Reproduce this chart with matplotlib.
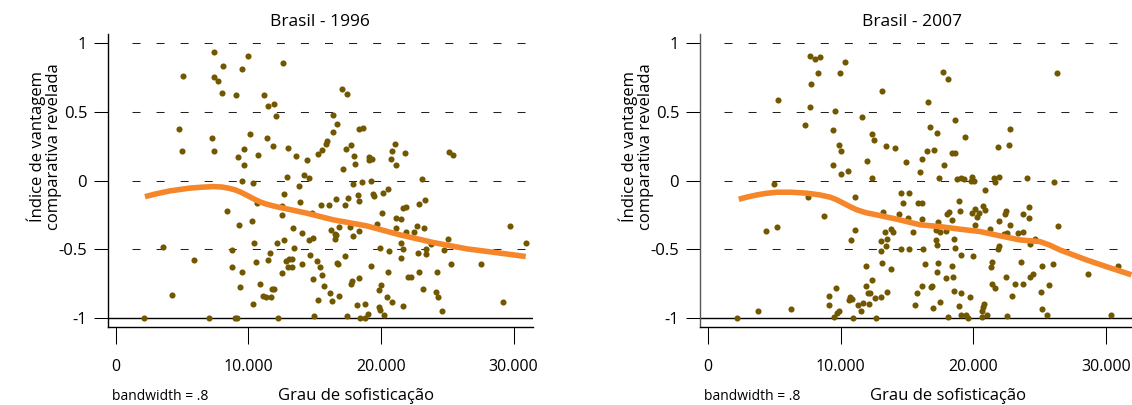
import numpy as np
import matplotlib
matplotlib.use("Agg")
import matplotlib.pyplot as plt
from matplotlib.ticker import FuncFormatter

plt.rcParams['font.family'] = ['Open Sans', 'DejaVu Sans']
plt.rcParams['axes.unicode_minus'] = False

# --- Dados (x em milhares: grau de sofisticação / 1000) ---
pontos_1996 = [
    (7.42, 0.939), (9.98, 0.905), (8.10, 0.837), (9.53, 0.813), (12.63, 0.854), (5.06, 0.763),
    (7.42, 0.753), (7.72, 0.723), (8.00, 0.640), (9.03, 0.624), (11.17, 0.624), (11.49, 0.546),
    (11.90, 0.560), (12.05, 0.473), (4.75, 0.374), (7.25, 0.313), (10.14, 0.342), (11.42, 0.313),
    (4.98, 0.214), (7.37, 0.214), (9.68, 0.231), (11.87, 0.250), (12.96, 0.240), (9.21, 0.172),
    (10.69, 0.189), (13.56, 0.182), (14.39, 0.153), (15.22, 0.197), (9.66, 0.112), (9.49, 0.000),
    (12.90, 0.029), (14.19, 0.039), (14.60, 0.017),
    (17.06, 0.667), (17.43, 0.631), (16.40, 0.478), (16.66, 0.410), (16.40, 0.357), (18.34, 0.378),
    (18.64, 0.386), (15.92, 0.289), (15.87, 0.265), (15.55, 0.223), (17.38, 0.233), (17.74, 0.262),
    (17.94, 0.178), (18.02, 0.124), (17.11, 0.087), (19.12, 0.170), (19.30, 0.156), (19.09, 0.153),
    (21.06, 0.267), (20.86, 0.218), (21.84, 0.202), (20.78, 0.156), (21.13, 0.114), (25.13, 0.209),
    (25.41, 0.185), (23.09, 0.015),
    (10.32, -0.015), (13.84, -0.039), (12.65, -0.099), (13.87, -0.155), (10.62, -0.165), (12.50, -0.182),
    (12.53, -0.252), (14.79, -0.233), (15.50, -0.180), (8.35, -0.225), (9.28, -0.322), (10.24, -0.291),
    (13.36, -0.342), (14.01, -0.383), (14.59, -0.432), (14.85, -0.420), (12.70, -0.434), (12.13, -0.458),
    (10.42, -0.451), (13.41, -0.490), (3.57, -0.485), (8.75, -0.509), (11.63, -0.524), (5.92, -0.575),
    (10.54, -0.594), (11.47, -0.579), (12.81, -0.582), (13.06, -0.572), (13.31, -0.568), (15.17, -0.584),
    (12.96, -0.626), (13.26, -0.628), (14.01, -0.608), (15.37, -0.627), (8.75, -0.630), (9.53, -0.664),
    (12.55, -0.670), (14.89, -0.713), (10.84, -0.750), (9.33, -0.776), (11.75, -0.793), (11.90, -0.793),
    (4.20, -0.832), (11.09, -0.837), (11.29, -0.844), (11.70, -0.844), (15.22, -0.868), (10.32, -0.902),
    (14.92, -0.985), (2.11, -1.000), (7.02, -1.000), (8.98, -1.000), (9.10, -1.000), (12.20, -1.000),
    (17.89, -0.024), (18.57, -0.012), (19.22, -0.002), (16.05, -0.175), (16.60, -0.131), (17.31, -0.180),
    (17.49, -0.124), (18.24, -0.104), (18.32, -0.148), (19.42, -0.099), (19.47, -0.114), (20.13, -0.092),
    (20.55, -0.058), (20.05, -0.237), (16.23, -0.361), (16.50, -0.386), (16.58, -0.397), (16.55, -0.422),
    (16.85, -0.335), (17.68, -0.335), (17.91, -0.400), (18.36, -0.368), (19.67, -0.315), (21.15, -0.274),
    (21.48, -0.281), (21.15, -0.344), (21.89, -0.378), (22.46, -0.378), (22.72, -0.332), (23.27, -0.347),
    (21.63, -0.199), (21.91, -0.191), (22.89, -0.167), (23.32, -0.140), (21.48, -0.451), (21.63, -0.495),
    (21.53, -0.565), (20.63, -0.512), (19.95, -0.488), (22.82, -0.524), (23.40, -0.499), (23.37, -0.531),
    (23.75, -0.461), (25.03, -0.424), (24.77, -0.507), (29.71, -0.330), (30.92, -0.456), (14.62, -0.541),
    (16.66, -0.597), (16.73, -0.608), (17.28, -0.550), (19.22, -0.623), (20.53, -0.662), (22.87, -0.662),
    (24.23, -0.662), (25.28, -0.608), (27.57, -0.604), (15.52, -0.691), (15.72, -0.766), (17.79, -0.730),
    (17.76, -0.754), (18.36, -0.706), (19.97, -0.761), (19.87, -0.795), (22.01, -0.703), (22.24, -0.703),
    (23.19, -0.786), (24.13, -0.808), (24.28, -0.844), (16.13, -0.820), (16.81, -0.841), (16.30, -0.880),
    (20.43, -0.851), (20.80, -0.883), (18.21, -0.909), (18.77, -0.902), (19.87, -0.919), (19.95, -0.941),
    (21.66, -0.914), (24.63, -0.946), (29.23, -0.883), (17.43, -0.985), (18.42, -0.997), (18.82, -0.997),
    (19.05, -0.968), (20.23, -0.977),
]

pontos_2007 = [
    (7.71, 0.910), (8.03, 0.883), (8.44, 0.898), (10.36, 0.866), (8.31, 0.784), (9.94, 0.786),
    (7.76, 0.706), (13.14, 0.653), (5.25, 0.587), (7.65, 0.539), (9.56, 0.510), (11.64, 0.464),
    (7.31, 0.408), (9.39, 0.371), (12.35, 0.342), (12.52, 0.298), (9.87, 0.257), (10.06, 0.218),
    (13.44, 0.250), (14.07, 0.240), (14.95, 0.136), (11.97, 0.143), (9.39, 0.112), (10.04, 0.049),
    (10.56, 0.068), (12.35, 0.017),
    (17.71, 0.793), (18.08, 0.738), (26.26, 0.786), (16.56, 0.571), (18.61, 0.444), (16.71, 0.391),
    (17.29, 0.347), (22.74, 0.374), (19.36, 0.318), (21.84, 0.247), (22.67, 0.258), (16.50, 0.216),
    (17.03, 0.223), (18.40, 0.199), (18.58, 0.202), (16.15, 0.156), (17.75, 0.114), (15.98, 0.063),
    (17.38, 0.020), (18.73, 0.010), (19.06, 0.022), (19.31, 0.012), (19.86, 0.025), (21.56, 0.020),
    (21.94, 0.025), (24.00, 0.022), (19.79, 0.000), (20.03, -0.002), (21.63, -0.012), (26.08, -0.012),
    (4.98, -0.026), (7.50, -0.116), (11.07, -0.119), (14.55, -0.087), (15.13, -0.087), (14.72, -0.160),
    (13.20, -0.226), (14.42, -0.247), (15.10, -0.269), (8.71, -0.257), (4.40, -0.368), (5.20, -0.335),
    (11.07, -0.359), (10.74, -0.434), (13.34, -0.371), (13.79, -0.352), (13.92, -0.373), (13.00, -0.437),
    (13.52, -0.427), (13.42, -0.475), (13.04, -0.514), (14.55, -0.495), (15.13, -0.495), (13.14, -0.597),
    (13.79, -0.645), (11.89, -0.619), (12.39, -0.721), (11.94, -0.766), (9.64, -0.783), (9.11, -0.839),
    (12.06, -0.815), (12.24, -0.817), (13.49, -0.812), (13.06, -0.846), (12.59, -0.854), (10.71, -0.844),
    (10.66, -0.866), (10.84, -0.859), (11.71, -0.892), (11.29, -0.907), (12.14, -0.902), (9.11, -0.907),
    (11.53, -0.946), (9.89, -0.946), (9.71, -0.963), (9.48, -0.994), (10.96, -1.000), (12.67, -1.000),
    (6.28, -0.936), (3.74, -0.948), (2.22, -1.000),
    (15.83, -0.165), (16.13, -0.165), (16.10, -0.281), (15.47, -0.378), (16.17, -0.495), (17.15, -0.432),
    (17.22, -0.468), (17.17, -0.361), (17.47, -0.371), (17.95, -0.364), (17.35, -0.298), (18.00, -0.240),
    (18.15, -0.226), (18.38, -0.284), (18.93, -0.146), (19.00, -0.223), (18.55, -0.429), (18.63, -0.490),
    (19.08, -0.543), (19.96, -0.548), (20.88, -0.066), (19.86, -0.235), (20.14, -0.208), (20.41, -0.233),
    (20.29, -0.262), (20.72, -0.184), (20.84, -0.216), (20.14, -0.322), (21.24, -0.349), (21.96, -0.296),
    (22.41, -0.245), (22.49, -0.218), (22.74, -0.327), (22.29, -0.386), (22.54, -0.383), (23.34, -0.383),
    (23.74, -0.378), (23.77, -0.242), (24.22, -0.194), (24.17, -0.274), (26.37, -0.332), (24.29, -0.461),
    (24.64, -0.424), (21.96, -0.475), (21.86, -0.495), (21.37, -0.590), (21.31, -0.626), (23.59, -0.592),
    (25.15, -0.621), (26.00, -0.608), (28.62, -0.677), (30.90, -0.623), (16.35, -0.604), (17.31, -0.601),
    (18.38, -0.621), (17.28, -0.664), (17.95, -0.708), (18.45, -0.699), (22.44, -0.699), (24.27, -0.703),
    (24.45, -0.681), (21.41, -0.750), (21.61, -0.779), (23.11, -0.750), (23.71, -0.750), (25.73, -0.759),
    (16.14, -0.771), (16.82, -0.776), (16.90, -0.764), (15.77, -0.815), (18.50, -0.805), (19.05, -0.817),
    (19.77, -0.851), (22.88, -0.841), (25.06, -0.808), (15.60, -0.907), (16.95, -0.927), (17.45, -0.881),
    (18.93, -0.914), (20.76, -0.902), (20.74, -0.921), (20.68, -0.953), (25.20, -0.936), (18.10, -0.990),
    (19.08, -0.982), (19.45, -0.982), (19.58, -0.997), (20.61, -0.990), (21.00, -0.982), (22.50, -0.985),
    (25.55, -0.982), (30.34, -0.977),
]

# curvas lowess (bandwidth = .8)
lowess_1996_x = [2.19, 3.10, 4.08, 5.58, 6.50, 7.35, 8.00, 8.48, 9.00, 9.36, 9.86, 10.37, 10.87, 11.37,
                 12.10, 12.88, 14.39, 16.40, 18.92, 21.43, 23.95, 26.47, 28.98, 30.92]
lowess_1996_y = [-0.117, -0.095, -0.075, -0.055, -0.048, -0.044, -0.047, -0.055, -0.068, -0.082, -0.106,
                 -0.132, -0.155, -0.172, -0.190, -0.206, -0.237, -0.286, -0.330, -0.395, -0.451, -0.497,
                 -0.528, -0.553]
lowess_2007_x = [2.32, 3.00, 3.70, 4.40, 5.20, 6.30, 7.46, 8.40, 9.21, 9.71, 10.21, 10.71, 11.22, 11.90,
                 12.72, 14.23, 15.98, 17.48, 18.98, 20.49, 21.99, 23.50, 25.00, 25.70, 26.50, 28.50,
                 30.00, 31.90]
lowess_2007_y = [-0.136, -0.119, -0.104, -0.093, -0.085, -0.085, -0.092, -0.104, -0.121, -0.140, -0.165,
                 -0.190, -0.213, -0.234, -0.250, -0.281, -0.322, -0.335, -0.354, -0.371, -0.402, -0.432,
                 -0.444, -0.468, -0.504, -0.577, -0.626, -0.686]

titulos = ['Brasil - 1996', 'Brasil - 2007']
xticks = [0, 10000, 20000, 30000]
yticks = [-1, -0.5, 0, 0.5, 1]
grade = [-0.5, 0, 0.5, 1]

COR_PONTO = '#715800'
COR_LINHA = '#f6862a'
W, H = 1132, 405


def fmt_x(v, pos):
    return f"{int(round(v)):,}".replace(',', '.')


def fmt_y(v, pos):
    return f"{v:g}"


def painel(left_px, right_px, xmax, pontos, lx, ly, titulo, cor_eixo):
    ax = fig.add_axes([left_px / W, (H - 327) / H, (right_px - left_px) / W, (327 - 34) / H])
    pts = np.array(pontos)
    ax.plot(pts[:, 0] * 1000, pts[:, 1], 'o', color=COR_PONTO, ms=4.4, mew=0, zorder=3)
    ax.plot(np.array(lx) * 1000, ly, color=COR_LINHA, lw=4.0, solid_capstyle='butt',
            solid_joinstyle='round', zorder=4)
    ax.set_xlim(-600, xmax)
    ax.set_ylim(-1.066, 1.067)
    for g in grade:
        ax.axhline(g, xmin=24 / (right_px - left_px), color='#222222', lw=0.75,
                   ls=(0, (7.7, 15.4)), zorder=1)
    ax.axhline(-1, color='black', lw=1.0, zorder=2)
    for s in ['top', 'right']:
        ax.spines[s].set_visible(False)
    ax.spines['left'].set_linewidth(1.0)
    ax.spines['left'].set_color(cor_eixo)
    ax.spines['bottom'].set_linewidth(1.0)
    ax.set_xticks(xticks)
    ax.set_yticks(yticks)
    ax.xaxis.set_major_formatter(FuncFormatter(fmt_x))
    ax.yaxis.set_major_formatter(FuncFormatter(fmt_y))
    ax.tick_params(axis='y', length=10, width=0.75, pad=5, labelsize=12)
    ax.tick_params(axis='x', length=12, width=0.75, pad=11, labelsize=11.5)
    cx = left_px + 212
    fig.text(cx / W, 1 - 22 / H, titulo, ha='center', va='center', fontsize=12.5)
    fig.text((left_px - 64) / W, 1 - 147 / H, 'Índice de vantagem\ncomparativa revelada',
             rotation=90, ha='center', va='center', fontsize=12, linespacing=1.0)
    fig.text((left_px + 248) / W, 1 - 396 / H, 'Grau de sofisticação', ha='center',
             va='center', fontsize=12)
    fig.text((left_px + 4) / W, 1 - 397 / H, 'bandwidth = .8', ha='left', va='center', fontsize=10)
    return ax


fig = plt.figure(figsize=(W / 100, H / 100), dpi=100)
painel(108, 533, 31470, pontos_1996, lowess_1996_x, lowess_1996_y, titulos[0], 'black')
painel(700, 1146, 33000, pontos_2007, lowess_2007_x, lowess_2007_y, titulos[1], '#555555')

fig.savefig('out.png', dpi=100)
